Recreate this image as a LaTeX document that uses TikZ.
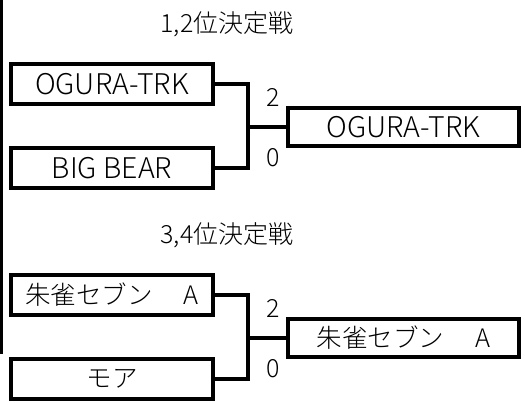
\documentclass[tikz,border=0pt]{standalone}
\usepackage{fontspec}
\setmainfont{Noto Sans CJK JP}[UprightFont=* Light]
\begin{document}
\begin{tikzpicture}[x=1pt,y=-1pt,
  team/.style={draw=black,line width=3.5pt,minimum width=202pt,minimum height=40pt,inner sep=0pt,font=\fontsize{25.5}{28}\selectfont},
  latin/.style={font=\fontsize{28.5}{30}\selectfont},
  win/.style={team,minimum width=231pt,minimum height=38pt},
  title/.style={font=\fontsize{25}{28}\selectfont,inner sep=0pt},
  score/.style={font=\fontsize{25}{28}\selectfont,inner sep=0pt},
  conn/.style={line width=3.5pt,line cap=rect}]
\useasboundingbox (0,0) rectangle (525,403);
\coordinate (bt) at (1.5,0);
\coordinate (bb) at (1.5,354);
\draw[line width=3pt] (bt) -- (bb);
% group 1
\node[title] (t1) at (227,24) {1,2位決定戦};
\node[team,latin] (a) at (112,84) {OGURA-TRK};
\node[team,latin] (b) at (112,168) {BIG BEAR};
\node[win,latin] (w1) at (403.5,127) {OGURA-TRK};
\coordinate (j1) at (248,127);
\draw[conn] (a.east) -| (j1) |- (b.east);
\draw[conn] (j1) -- (w1.west);
\node[score] (s1) at (273,97) {2};
\node[score] (s2) at (273,158) {0};
% group 2
\node[title] (t2) at (227,235) {3,4位決定戦};
\node[team] (c) at (112,295) {朱雀セブン　 A};
\node[team] (d) at (112,379) {モア};
\node[win] (w2) at (403.5,338) {朱雀セブン　 A};
\coordinate (j2) at (248,338);
\draw[conn] (c.east) -| (j2) |- (d.east);
\draw[conn] (j2) -- (w2.west);
\node[score] (s3) at (273,308) {2};
\node[score] (s4) at (273,369) {0};
\end{tikzpicture}
\end{document}
